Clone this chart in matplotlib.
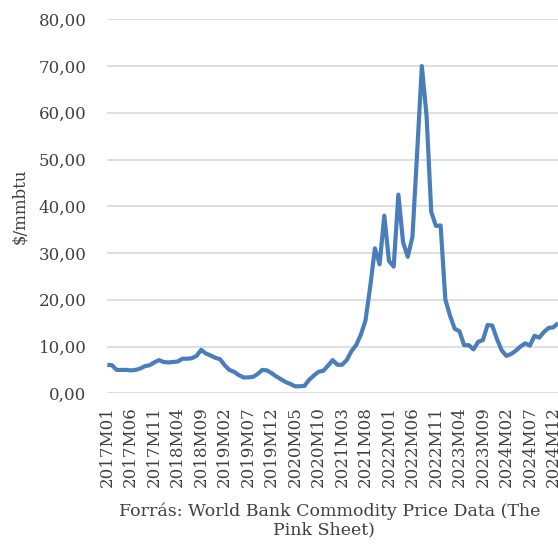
import matplotlib
matplotlib.use("Agg")
import matplotlib.pyplot as plt
import numpy as np

# Monthly price, $/mmbtu, 2017M01 .. 2025M01
prices_2017 = [6.1, 6.0, 5.0, 5.0, 5.0, 4.9, 5.0, 5.3, 5.8, 6.0, 6.6, 7.1]
prices_2018 = [6.7, 6.6, 6.7, 6.8, 7.4, 7.4, 7.5, 8.0, 9.3, 8.5, 8.1, 7.6]
prices_2019 = [7.3, 6.0, 5.0, 4.6, 3.9, 3.4, 3.4, 3.5, 4.1, 5.0, 4.9, 4.3]
prices_2020 = [3.6, 3.0, 2.4, 2.0, 1.5, 1.5, 1.6, 2.9, 3.8, 4.6, 4.8, 5.9]
prices_2021 = [7.1, 6.1, 6.1, 7.1, 9.0, 10.3, 12.5, 15.6, 22.8, 31.0, 27.6, 38.0]
prices_2022 = [28.3, 27.1, 42.5, 32.3, 29.2, 33.5, 51.5, 70.0, 59.4, 38.8, 35.8, 35.9]
prices_2023 = [20.1, 16.6, 13.8, 13.3, 10.3, 10.3, 9.4, 11.0, 11.4, 14.6, 14.5, 11.6]
prices_2024 = [9.2, 8.0, 8.4, 9.1, 10.0, 10.7, 10.2, 12.3, 11.9, 13.1, 14.0, 14.1]
prices_2025 = [15.0]

years = [2017, 2018, 2019, 2020, 2021, 2022, 2023, 2024, 2025]
yearly = [prices_2017, prices_2018, prices_2019, prices_2020, prices_2021,
          prices_2022, prices_2023, prices_2024, prices_2025]

months = []
values = []
for y, vals in zip(years, yearly):
    for m, v in enumerate(vals, start=1):
        months.append(f"{y}M{m:02d}")
        values.append(v)

tick_labels = ["2017M01", "2017M06", "2017M11", "2018M04", "2018M09", "2019M02",
               "2019M07", "2019M12", "2020M05", "2020M10", "2021M03", "2021M08",
               "2022M01", "2022M06", "2022M11", "2023M04", "2023M09", "2024M02",
               "2024M07", "2024M12"]
y_ticks = [0, 10, 20, 30, 40, 50, 60, 70, 80]

y_label = "$/mmbtu"
source = ["Forrás: World Bank Commodity Price Data (The", "Pink Sheet)"]

plt.rcParams['font.family'] = ['DejaVu Serif']
text_color = "#404040"

W, H = 558, 548
fig = plt.figure(figsize=(W / 100, H / 100), dpi=100)
left_px, right_px, top_px, bottom_px = 107.3, 558.0, 19.3, 393.3
ax = fig.add_axes([left_px / W, 1 - bottom_px / H,
                   (right_px - left_px) / W, (bottom_px - top_px) / H])

x = np.arange(len(values))
ax.plot(x, values, color="#4a7ebb", lw=3.0, solid_joinstyle="round",
        solid_capstyle="butt", clip_on=False, zorder=3)

ax.set_xlim(0, len(values) - 1)
ax.set_ylim(0, 80)
ax.set_yticks(y_ticks)
ax.set_yticklabels([f"{v:.2f}".replace(".", ",") for v in y_ticks])

tick_pos = [months.index(t) for t in tick_labels]
ax.set_xticks(tick_pos)
ax.set_xticklabels(tick_labels, rotation=90)

for s in ax.spines.values():
    s.set_visible(False)
ax.grid(axis="y", color="#d9d9d9", lw=1.2)
ax.set_axisbelow(True)
ax.tick_params(axis="both", length=0, labelsize=12, colors=text_color)
ax.tick_params(axis="y", pad=15)
ax.tick_params(axis="x", pad=9)

ax.set_ylabel(y_label, fontsize=12, color=text_color)
ax.yaxis.set_label_coords(-(left_px - 28.5) / (right_px - left_px), 0.5)

fig.text(119 / W, 1 - 511.5 / H, source[0], ha="left", va="center",
         fontsize=12.5, color=text_color)
fig.text(323.5 / W, 1 - 529.5 / H, source[1], ha="center", va="center",
         fontsize=12.5, color=text_color)

fig.savefig("out.png", dpi=100)
